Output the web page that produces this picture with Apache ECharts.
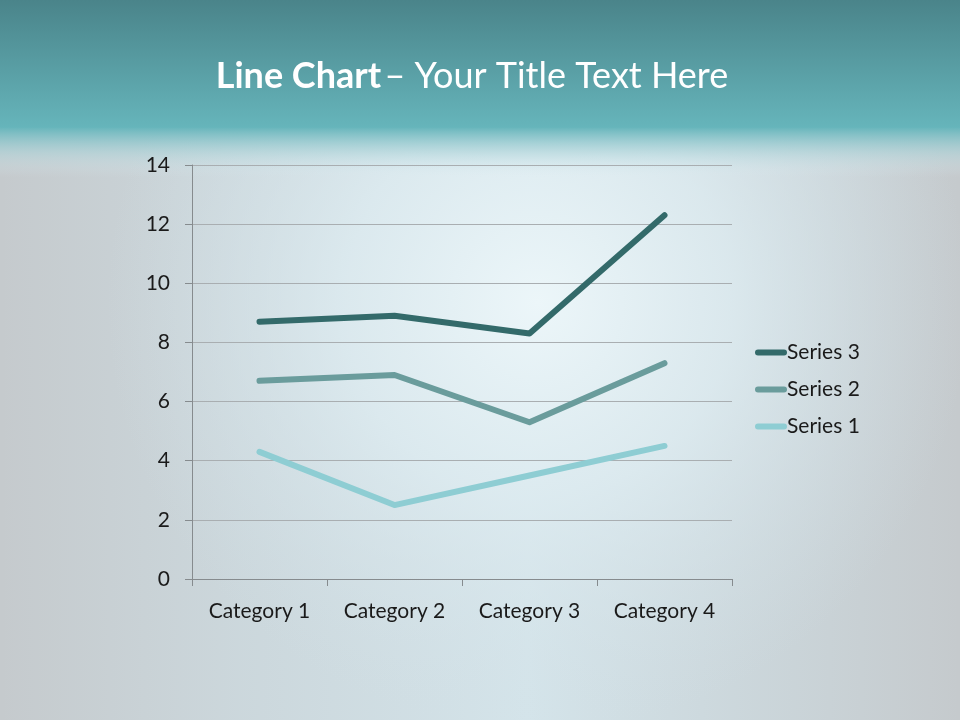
<!DOCTYPE html>
<html>
<head>
<meta charset="utf-8">
<script src="https://cdn.jsdelivr.net/npm/echarts@6/dist/echarts.min.js"></script>
<style>html,body{margin:0;padding:0;}#c{width:960px;height:720px;}</style>
</head>
<body>
<div id="c"></div>
<script>
var categories = ['Category 1', 'Category 2', 'Category 3', 'Category 4'];
var series1 = [4.3, 2.5, 3.5, 4.5];
var series2 = [2.4, 4.4, 1.8, 2.8];
var series3 = [2, 2, 3, 5];
var seriesNames = ['Series 1', 'Series 2', 'Series 3'];
var yTicks = {min: 0, max: 14, interval: 2};

var colors = ['#8ecdd3', '#6a9c9c', '#336a6a'];
var font = 'Lato, "Open Sans", sans-serif';
var chart = echarts.init(document.getElementById('c'));
var lineIcon = 'path://M3,0 L29,0 A3,3 0 0 1 29,6 L3,6 A3,3 0 0 1 3,0 Z';

function mk(name, data, color) {
  return {
    name: name, type: 'line', stack: 'total', data: data,
    symbol: 'none', showSymbol: false,
    lineStyle: {color: color, width: 6, cap: 'round', join: 'round'},
    itemStyle: {color: color}
  };
}

chart.setOption({
  animation: false,
  backgroundColor: '#c5cacd',
  graphic: [
    {type: 'rect', z: -11, silent: true, shape: {x: 0, y: 120, width: 960, height: 600},
     style: {fill: new echarts.graphic.LinearGradient(0, 0, 1, 0, [
       {offset: 0, color: 'rgba(208,224,230,0)'}, {offset: 0.25, color: 'rgba(208,224,230,0.6)'},
       {offset: 0.55, color: 'rgba(212,228,234,1)'}, {offset: 0.85, color: 'rgba(208,224,230,0.4)'},
       {offset: 1, color: 'rgba(208,224,230,0)'}])}},
    {type: 'rect', z: -10, silent: true, shape: {x: 0, y: 0, width: 960, height: 720},
     style: {fill: new echarts.graphic.RadialGradient(0.56, 0.42, 0.6, [
       {offset: 0, color: 'rgba(236,246,249,1)'}, {offset: 0.45, color: 'rgba(222,236,241,0.8)'}, {offset: 1, color: 'rgba(210,224,230,0)'}])}},
    {type: 'rect', z: -9, silent: true, shape: {x: 0, y: 0, width: 960, height: 128},
     style: {fill: new echarts.graphic.LinearGradient(0, 0, 0, 1, [
       {offset: 0, color: '#4a848a'}, {offset: 1, color: '#66b5bb'}])}},
    {type: 'rect', z: -9, silent: true, shape: {x: 0, y: 127, width: 960, height: 50},
     style: {fill: new echarts.graphic.LinearGradient(0, 0, 0, 1, [
       {offset: 0, color: 'rgba(102,181,187,1)'}, {offset: 0.5, color: 'rgba(170,210,215,0.6)'}, {offset: 1, color: 'rgba(220,235,240,0)'}])}},
    {type: 'text', z: 10, x: 472, y: 76, silent: true,
     style: {text: '{b|Line Chart} {r|– Your Title Text Here}', align: 'center', verticalAlign: 'middle',
       rich: {b: {fontFamily: font, fontWeight: 'bold', fontSize: 36, fill: '#ffffff'},
              r: {fontFamily: font, fontWeight: 'normal', fontSize: 36, fill: '#ffffff'}}}}
  ],
  grid: {left: 192, right: 228, top: 165, bottom: 141, containLabel: false},
  legend: {
    orient: 'vertical', left: 750, top: 337, itemGap: 16, itemWidth: 32, itemHeight: 7,
    icon: lineIcon,
    data: ['Series 3', 'Series 2', 'Series 1'],
    textStyle: {fontFamily: font, fontSize: 21, color: '#1a1a1a', padding: [0, 0, 0, -5]}
  },
  xAxis: {
    type: 'category', data: categories, boundaryGap: true,
    axisLine: {lineStyle: {color: '#868b8e', width: 1}},
    axisTick: {show: true, length: 7, lineStyle: {color: '#868b8e'}},
    axisLabel: {fontFamily: font, fontSize: 21, color: '#1a1a1a', margin: 22}
  },
  yAxis: {
    type: 'value', min: yTicks.min, max: yTicks.max, interval: yTicks.interval,
    axisLine: {show: true, lineStyle: {color: '#868b8e', width: 1}},
    axisTick: {show: true, length: 7, lineStyle: {color: '#868b8e'}},
    axisLabel: {fontFamily: font, fontSize: 21, color: '#1a1a1a', margin: 22},
    splitLine: {lineStyle: {color: '#a9aeb1', width: 1}}
  },
  series: [
    mk(seriesNames[0], series1, colors[0]),
    mk(seriesNames[1], series2, colors[1]),
    mk(seriesNames[2], series3, colors[2])
  ]
});
</script>
</body>
</html>
